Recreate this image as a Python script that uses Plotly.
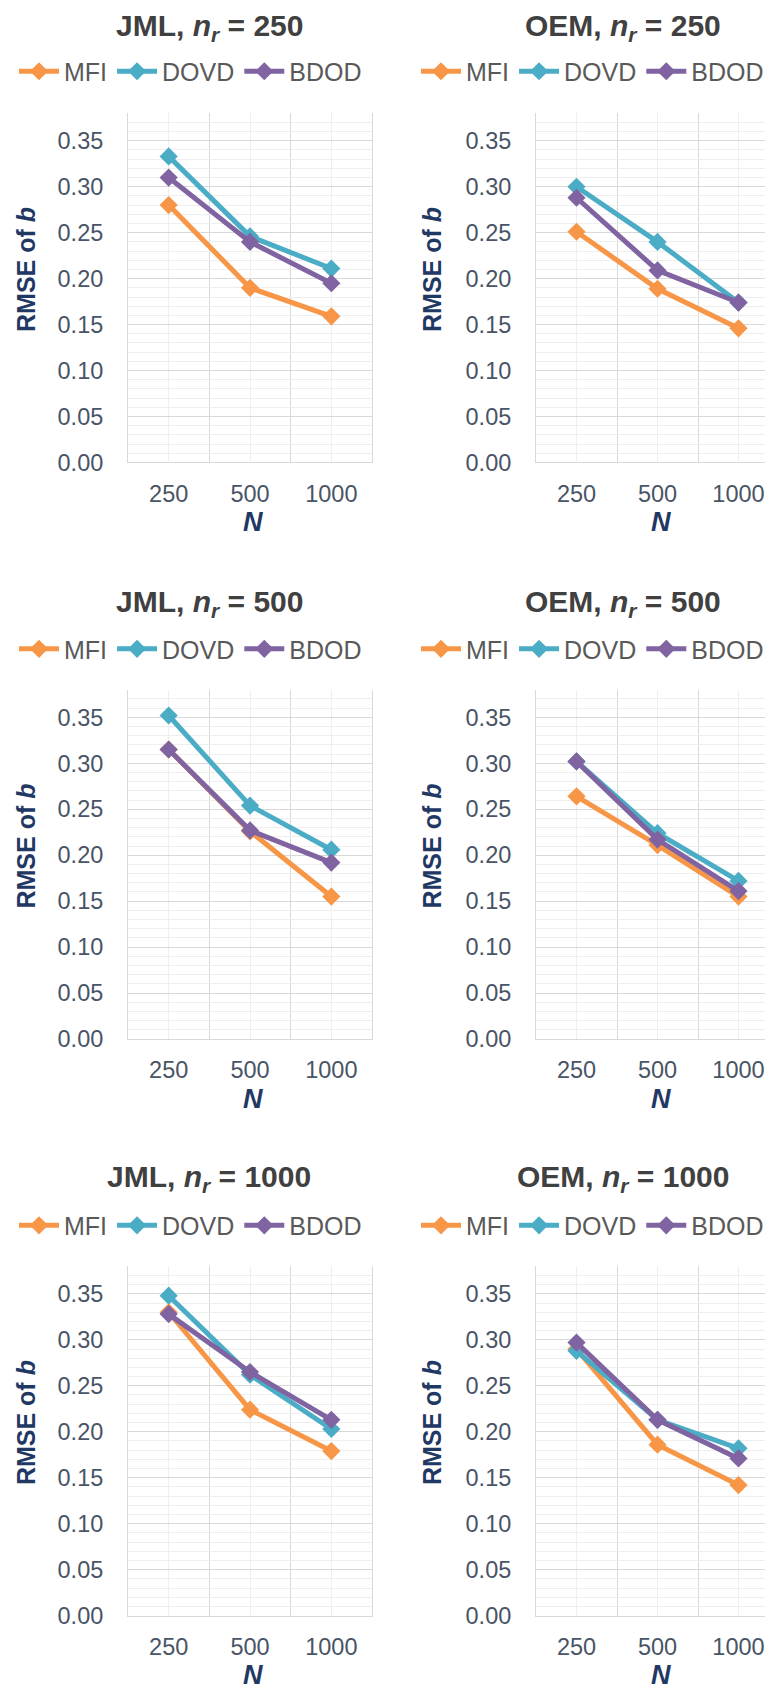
import plotly.graph_objects as go

W, H = 773, 1699

categories = ["250", "500", "1000"]
series_names = ["MFI", "DOVD", "BDOD"]
series_colors = ["#F79646", "#4BACC6", "#8064A2"]

# RMSE of b values
jml_250_mfi = [0.280, 0.190, 0.159]
jml_250_dovd = [0.333, 0.246, 0.211]
jml_250_bdod = [0.310, 0.240, 0.195]

oem_250_mfi = [0.251, 0.189, 0.146]
oem_250_dovd = [0.300, 0.240, 0.174]
oem_250_bdod = [0.288, 0.209, 0.174]

jml_500_mfi = [0.315, 0.226, 0.155]
jml_500_dovd = [0.352, 0.254, 0.206]
jml_500_bdod = [0.315, 0.227, 0.192]

oem_500_mfi = [0.264, 0.211, 0.155]
oem_500_dovd = [0.302, 0.224, 0.172]
oem_500_bdod = [0.302, 0.217, 0.161]

jml_1000_mfi = [0.330, 0.224, 0.179]
jml_1000_dovd = [0.348, 0.262, 0.203]
jml_1000_bdod = [0.328, 0.265, 0.213]

oem_1000_mfi = [0.290, 0.186, 0.142]
oem_1000_dovd = [0.288, 0.213, 0.182]
oem_1000_bdod = [0.297, 0.213, 0.171]

panel_methods = ["JML", "OEM", "JML", "OEM", "JML", "OEM"]
panel_nr = ["250", "250", "500", "500", "1000", "1000"]
panel_values = [
    [jml_250_mfi, jml_250_dovd, jml_250_bdod],
    [oem_250_mfi, oem_250_dovd, oem_250_bdod],
    [jml_500_mfi, jml_500_dovd, jml_500_bdod],
    [oem_500_mfi, oem_500_dovd, oem_500_bdod],
    [jml_1000_mfi, jml_1000_dovd, jml_1000_bdod],
    [oem_1000_mfi, oem_1000_dovd, oem_1000_bdod],
]

FONT = "Liberation Sans, Arial, sans-serif"
TICK_COLOR = "#495466"
TITLE_COLOR = "#404040"
AXTITLE_COLOR = "#1F3864"
LEGEND_COLOR = "#595959"


def px_x(x):
    return x / W


def px_y(y):
    return 1 - y / H


# layout geometry (pixels)
col_plot = [(120, 364), (528, 771)]
col_title_x = [201, 615]
col_ytitle_x = [18, 424]
col_legend_x = [6, 408]
row_bottom = [458, 1039, 1620]
row_title_y = [20, 600, 1180]
row_legend_y = [64, 646, 1227]
plot_h = 352

fig = go.Figure()
layout = dict(
    width=W, height=H,
    margin=dict(l=0, r=0, t=0, b=0),
    paper_bgcolor="white", plot_bgcolor="white",
    font=dict(family=FONT),
    showlegend=True,
)
annotations = []

x_positions = list(range(len(categories)))

for i in range(6):
    r, c = divmod(i, 2)
    sfx = "" if i == 0 else str(i + 1)
    xa, ya = "x" + sfx, "y" + sfx
    leg = "legend" + sfx
    bot = row_bottom[r]
    top = bot - plot_h
    x0, x1 = col_plot[c]

    for name, color, vals in zip(series_names, series_colors, panel_values[i]):
        fig.add_trace(go.Scatter(
            x=x_positions, y=vals, name=name, mode="lines+markers",
            line=dict(color=color, width=5),
            marker=dict(symbol="diamond", size=14, color=color),
            xaxis=xa, yaxis=ya, legend=leg,
        ))

    layout["xaxis" + sfx] = dict(
        domain=[px_x(x0), px_x(x1)], anchor=ya,
        range=[-0.5, 2.5], tickvals=x_positions, ticktext=categories,
        showgrid=True, gridcolor="#efefef", gridwidth=1,
        minor=dict(tickvals=[-0.5, 0.5, 1.5, 2.5], showgrid=True,
                   gridcolor="#d9d9d9", gridwidth=1),
        showline=True, linecolor="#d9d9d9", linewidth=1,
        zeroline=False, ticks="outside", ticklen=10,
        tickcolor="rgba(0,0,0,0)",
        tickfont=dict(family=FONT, size=23.5, color=TICK_COLOR),
        fixedrange=True,
    )
    layout["yaxis" + sfx] = dict(
        domain=[px_y(bot), px_y(top)], anchor=xa,
        range=[0, 0.38], dtick=0.05, tick0=0, tickformat=".2f",
        showgrid=True, gridcolor="#d9d9d9", gridwidth=1,
        minor=dict(dtick=0.01, showgrid=True, gridcolor="#eeeeee", gridwidth=1),
        showline=True, mirror=True, linecolor="#d9d9d9", linewidth=1,
        zeroline=False, ticks="outside", ticklen=19,
        tickcolor="rgba(0,0,0,0)",
        tickfont=dict(family=FONT, size=23.5, color=TICK_COLOR),
        fixedrange=True,
    )
    layout[leg] = dict(
        orientation="h", x=px_x(col_legend_x[c]), xanchor="left",
        y=px_y(row_legend_y[r]), yanchor="middle",
        font=dict(family=FONT, size=25, color=LEGEND_COLOR),
        bgcolor="rgba(0,0,0,0)", itemwidth=40, tracegroupgap=0,
    )

    # panel title
    annotations.append(dict(
        text=f"<b>{panel_methods[i]}, <i>n<sub>r</sub></i> = {panel_nr[i]}</b>",
        x=px_x(col_title_x[c]), y=px_y(row_title_y[r]),
        xref="paper", yref="paper", xanchor="center", yanchor="middle",
        showarrow=False, font=dict(family=FONT, size=30, color=TITLE_COLOR),
    ))
    # y axis title
    annotations.append(dict(
        text="<b>RMSE of <i>b</i></b>", textangle=-90,
        x=px_x(col_ytitle_x[c]), y=px_y(bot - 194),
        xref="paper", yref="paper", xanchor="center", yanchor="middle",
        showarrow=False, font=dict(family=FONT, size=25, color=AXTITLE_COLOR),
    ))
    # x axis title
    annotations.append(dict(
        text="<b><i>N</i></b>",
        x=px_x((x0 + x1) / 2 + 3), y=px_y(bot + 60),
        xref="paper", yref="paper", xanchor="center", yanchor="middle",
        showarrow=False, font=dict(family=FONT, size=27, color=AXTITLE_COLOR),
    ))

layout["annotations"] = annotations
fig.update_layout(**layout)
fig.write_html("out.html")
